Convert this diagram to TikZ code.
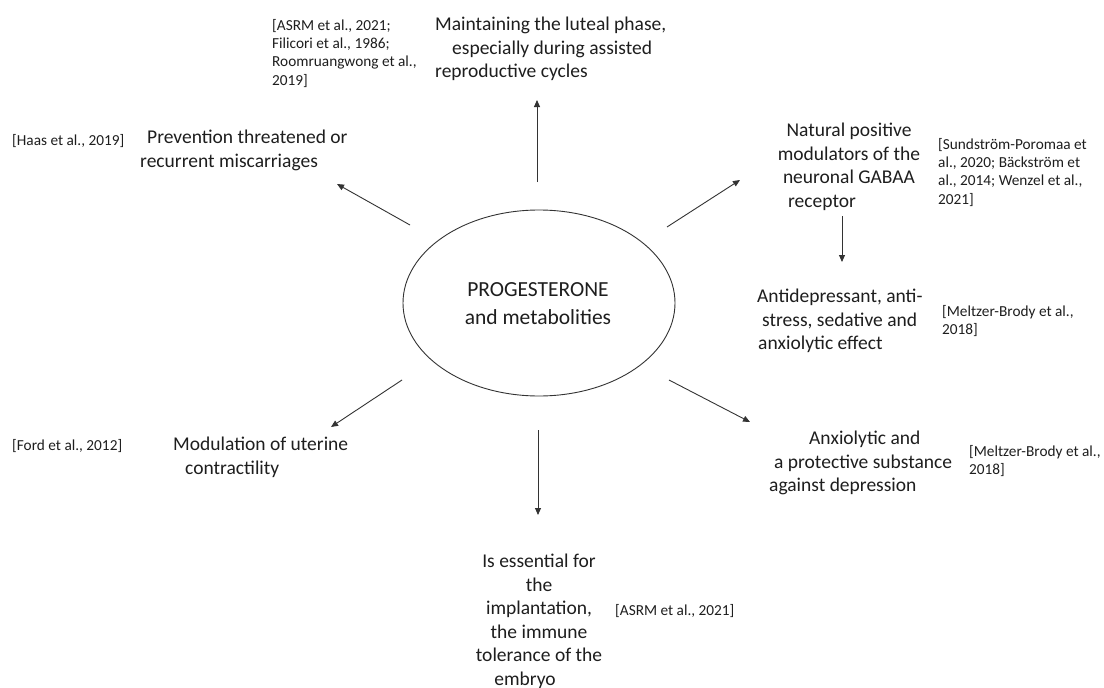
\documentclass[tikz,border=0pt]{standalone}
\usepackage{fontspec}
\setmainfont{Carlito}
\usetikzlibrary{arrows.meta,shapes.geometric}
\definecolor{ink}{HTML}{1E1E1E}
\definecolor{lineink}{HTML}{333333}
\begin{document}
\begin{tikzpicture}[x=1pt,y=-1pt,
  maintext/.style={inner sep=0pt,align=left,anchor=north west,font=\fontsize{19.5}{23.5}\selectfont,text=ink},
  ctrtext/.style={inner sep=0pt,align=center,anchor=north,font=\fontsize{19.5}{23.5}\selectfont,text=ink},
  reftext/.style={inner sep=0pt,align=left,anchor=north west,font=\fontsize{15.3}{18.3}\selectfont,text=ink},
  arr/.style={draw=lineink,line width=0.9pt,-{Triangle[length=7pt,width=6pt]}}]
\useasboundingbox[fill=white] (0,0) rectangle (1104,688);
% central node
\node[draw=lineink,line width=0.9pt,ellipse,minimum width=272pt,minimum height=186pt,inner sep=0pt] (core) at (539,303) {};
\node[inner sep=0pt,align=center,font=\fontsize{21.5}{28}\selectfont,text=ink] (coretext) at (538,304) {PROGESTERONE\\and metabolities};
% outcome texts
\node[maintext] (luteal) at (435,17) {Maintaining the luteal phase,\\\hspace*{17pt}especially during assisted\\reproductive cycles};
\node[reftext] (refluteal) at (272,19) {[ASRM et al., 2021;\\Filicori et al., 1986;\\Roomruangwong et al.,\\2019]};
\node[maintext] (miscar) at (140,130) {\hspace*{7pt}Prevention threatened or\\recurrent miscarriages};
\node[reftext] (refmiscar) at (12,134) {[Haas et al., 2019]};
\node[ctrtext] (gabaa) at (849,123) {Natural positive\\modulators of the\\neuronal GABAA\\receptor\hspace*{54pt}};
\node[reftext] (refgabaa) at (938,138) {[Sundström-Poromaa et\\al., 2020; Bäckström et\\al., 2014; Wenzel et al.,\\2021]};
\node[maintext] (antidep) at (757,289) {Antidepressant, anti-\\\hspace*{5pt}stress, sedative and\\\hspace*{1pt}anxiolytic effect};
\node[reftext] (refantidep) at (942,305) {[Meltzer-Brody et al.,\\2018]};
\node[maintext] (anxio) at (769,431) {\hspace*{40pt}Anxiolytic and\\\hspace*{5pt}a protective substance\\against depression};
\node[reftext] (refanxio) at (969,445) {[Meltzer-Brody et al.,\\2018]};
\node[maintext] (uterine) at (173,437) {Modulation of uterine\\\hspace*{12pt}contractility};
\node[reftext] (refuterine) at (12,439) {[Ford et al., 2012]};
\node[ctrtext] (implant) at (539,554) {Is essential for\\the\\implantation,\\the immune\\tolerance of the\\embryo\hspace*{28pt}};
\node[reftext] (refimplant) at (615,604) {[ASRM et al., 2021]};
% arrow end points
\coordinate (a1s) at (537,182); \coordinate (a1e) at (537,100);
\coordinate (a2s) at (410,225); \coordinate (a2e) at (337,184);
\coordinate (a3s) at (667,227); \coordinate (a3e) at (740,180);
\coordinate (a4s) at (842,216); \coordinate (a4e) at (842,262);
\coordinate (a5s) at (669,380); \coordinate (a5e) at (750,422);
\coordinate (a6s) at (402,380); \coordinate (a6e) at (331,427);
\coordinate (a7s) at (538,430); \coordinate (a7e) at (538,515);
\draw[arr] (a1s) -- (a1e);
\draw[arr] (a2s) -- (a2e);
\draw[arr] (a3s) -- (a3e);
\draw[arr] (a4s) -- (a4e);
\draw[arr] (a5s) -- (a5e);
\draw[arr] (a6s) -- (a6e);
\draw[arr] (a7s) -- (a7e);
\end{tikzpicture}
\end{document}
